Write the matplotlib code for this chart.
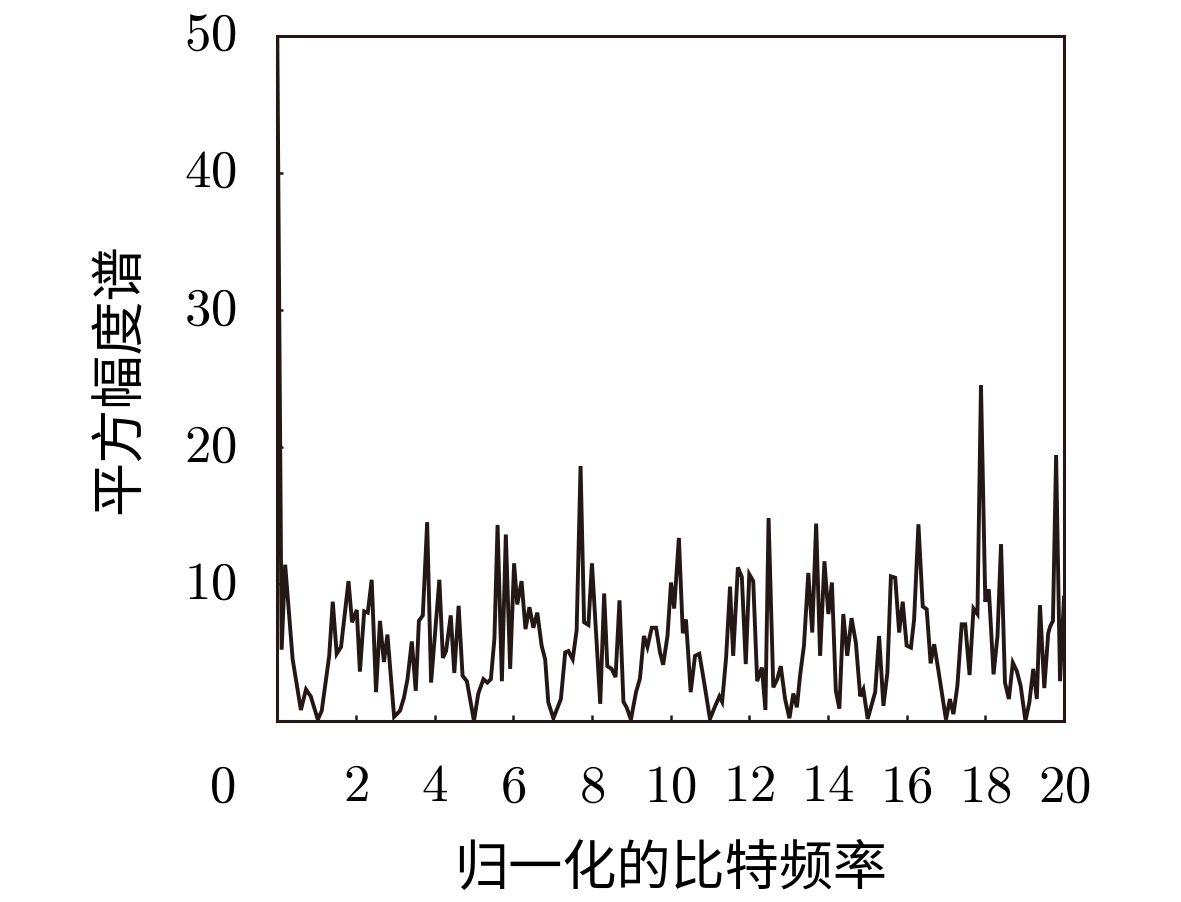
import numpy as np
from matplotlib import pyplot as plt
from matplotlib import transforms

# frecuencia normalizada y espectro de amplitud al cuadrado
frecuencia = [0.0, 0.11, 0.20, 0.39, 0.60, 0.73, 0.85, 1.03, 1.13, 1.32, 1.41, 1.51, 1.62,
              1.81, 1.90, 2.02, 2.10, 2.21, 2.30, 2.40, 2.51, 2.61, 2.71, 2.80, 2.97,
              3.12, 3.22, 3.31, 3.42, 3.52, 3.60, 3.70, 3.81, 3.91, 4.12, 4.21, 4.29,
              4.41, 4.50, 4.61, 4.71, 4.82, 5.00, 5.11, 5.24, 5.34, 5.43, 5.52, 5.60,
              5.71, 5.81, 5.92, 6.02, 6.10, 6.21, 6.31, 6.41, 6.51, 6.61, 6.72, 6.81,
              6.89, 7.02, 7.21, 7.32, 7.40, 7.51, 7.61, 7.71, 7.80, 7.91, 8.00, 8.21,
              8.31, 8.39, 8.50, 8.60, 8.70, 8.80, 8.88, 8.99, 9.12, 9.22, 9.32, 9.41,
              9.52, 9.63, 9.73, 9.81, 9.92, 10.01, 10.09, 10.21, 10.31, 10.39, 10.51,
              10.62, 10.73, 10.83, 11.00, 11.13, 11.24, 11.31, 11.41, 11.51, 11.59,
              11.71, 11.81, 11.91, 12.00, 12.10, 12.20, 12.32, 12.41, 12.49, 12.61,
              12.71, 12.80, 12.91, 13.02, 13.12, 13.21, 13.29, 13.39, 13.50, 13.60,
              13.70, 13.80, 13.91, 14.01, 14.10, 14.20, 14.29, 14.39, 14.49, 14.60,
              14.71, 14.82, 14.90, 15.01, 15.20, 15.30, 15.41, 15.51, 15.60, 15.71,
              15.81, 15.90, 16.00, 16.11, 16.19, 16.30, 16.41, 16.51, 16.61, 16.70,
              16.81, 17.00, 17.10, 17.19, 17.29, 17.40, 17.49, 17.60, 17.70, 17.80,
              17.89, 18.00, 18.09, 18.21, 18.31, 18.40, 18.50, 18.60, 18.70, 18.80,
              18.90, 19.02, 19.12, 19.22, 19.31, 19.39, 19.50, 19.60, 19.65, 19.72,
              19.80, 19.90, 20.0]
espectro = [50.0, 5.2, 11.4, 4.5, 0.8, 2.3, 1.8, 0.1, 0.75, 4.75, 8.7, 4.9, 5.4,
            10.2, 7.2, 8.1, 3.6, 8.0, 7.9, 10.3, 2.1, 7.3, 4.3, 6.3, 0.3,
            0.75, 1.7, 3.05, 5.8, 2.2, 7.3, 7.7, 14.5, 2.8, 10.3, 4.6, 5.1,
            7.7, 3.5, 8.4, 3.3, 2.9, 0.0, 2.0, 3.05, 2.8, 3.05, 6.0, 14.3,
            2.9, 13.6, 3.8, 11.5, 8.5, 10.2, 6.7, 8.3, 6.8, 7.9, 5.5, 4.5,
            1.35, 0.2, 1.6, 5.0, 5.1, 4.5, 6.6, 18.6, 7.2, 7.0, 11.5, 1.25,
            9.3, 4.0, 3.8, 3.2, 8.8, 1.4, 1.0, 0.1, 2.1, 3.1, 6.2, 5.4,
            6.8, 6.8, 5.0, 4.1, 6.2, 10.1, 8.2, 13.35, 6.4, 7.4, 2.1,
            4.75, 4.9, 3.2, 0.15, 1.07, 1.8, 1.4, 4.6, 9.8, 4.75,
            11.2, 10.5, 4.15, 10.7, 10.2, 2.9, 3.9, 0.8, 14.8, 2.45,
            3.05, 4.0, 1.6, 0.2, 2.0, 1.0, 3.3, 5.5, 10.8, 6.45,
            14.4, 4.75, 11.65, 7.8, 10.1, 2.2, 0.9, 7.8, 4.75, 7.5,
            5.7, 1.8, 2.3, 0.15, 2.1, 6.2, 1.1, 3.5, 10.55, 10.45,
            6.45, 8.7, 5.5, 5.35, 7.4, 14.35, 8.35, 8.15, 4.2, 5.6,
            3.65, 0.1, 1.6, 0.5, 2.55, 7.05, 7.05, 3.35, 8.2, 7.8,
            24.5, 8.7, 9.6, 3.4, 6.2, 12.9, 2.8, 1.6, 4.25, 3.65,
            2.55, 0.0, 1.35, 3.8, 1.6, 8.45, 2.4, 6.4, 6.9, 7.3,
            19.4, 2.9, 9.0]

xticks = [2, 4, 6, 8, 10, 12, 14, 16, 18, 20]
yticks = [10, 20, 30, 40, 50]
xlabel = '归一化的比特频率'
ylabel = '平方幅度谱'

color = '#231815'


def graficar():
    plt.rcParams['mathtext.fontset'] = 'cm'
    plt.rcParams['font.family'] = ['Noto Sans CJK SC', 'DejaVu Sans']

    fig = plt.figure(figsize=(11.81, 9.02), dpi=100)
    ax = fig.add_axes([0.2348, 0.2007, 0.6661, 0.7599])

    ax.plot(np.array(frecuencia), np.array(espectro), color=color, lw=2.8,
            solid_joinstyle='miter')
    ax.set_xlim(0, 20)
    ax.set_ylim(0, 50)

    ax.set_xticks(xticks)
    ax.set_xticklabels(['$%d$' % v for v in xticks])
    ax.set_yticks(yticks)
    ax.set_yticklabels(['$%d$' % v for v in yticks])
    ax.tick_params(axis='x', direction='in', length=4.5, width=1.8, color=color,
                   labelsize=38, pad=27, labelcolor='black')
    ax.tick_params(axis='y', direction='in', length=4.5, width=1.8, color=color,
                   labelsize=38, pad=29, labelcolor='black')
    for s in ax.spines.values():
        s.set_linewidth(2.2)
        s.set_color(color)

    # subir un poco las etiquetas del eje y
    subir = transforms.ScaledTranslation(0, 0.07, fig.dpi_scale_trans)
    for lab in ax.get_yticklabels():
        lab.set_transform(lab.get_transform() + subir)

    # el cero comun de los dos ejes
    ax.annotate('$0$', xy=(-1.41, 0), xycoords=('data', 'axes fraction'),
                xytext=(0, -27), textcoords='offset points', ha='center',
                va='top', fontsize=38, annotation_clip=False)

    ax.set_xlabel(xlabel, fontsize=39, va='center', fontweight='light')
    ax.xaxis.set_label_coords(0.5, -0.217)
    ax.set_ylabel(ylabel, fontsize=39, va='center', fontweight='light')
    ax.yaxis.set_label_coords(-0.2, 0.5)

    fig.savefig('out.png', dpi=100)


def main():
    graficar()


if __name__ == '__main__':
    main()
